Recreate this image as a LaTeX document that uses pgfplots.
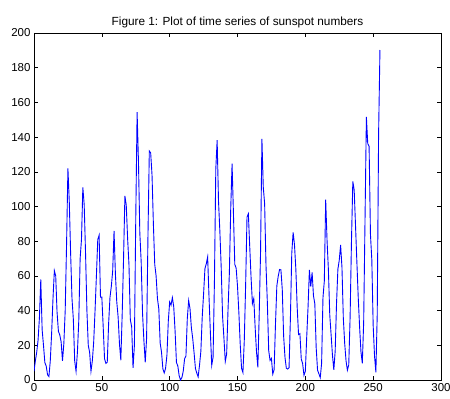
\documentclass[border=0pt]{standalone}
\usepackage{pgfplots}
\pgfplotsset{compat=1.18}
\usepackage{fontspec}
\setmainfont{Liberation Sans}
\begin{document}
\begin{tikzpicture}[x=1bp,y=1bp]
\useasboundingbox (-34bp,-19bp) rectangle (416bp,380bp);
\begin{axis}[
  at={(0bp,0bp)}, anchor=south west,
  scale only axis, width=407bp, height=347bp,
  xmin=0, xmax=300, ymin=0, ymax=200,
  xtick={0,50,...,300}, ytick={0,20,...,200},
  tick align=inside, xtick pos=both, ytick pos=both,
  major tick length=4bp,
  axis line style={black, line width=0.8pt},
  tick style={black, line width=0.6pt},
  /pgf/number format/assume math mode=true,
  ticklabel style={font=\fontsize{11.5bp}{13bp}\selectfont},
  scaled ticks=false,
  title={Figure 1: Plot of time series of sunspot numbers},
  title style={font=\fontsize{11.8bp}{13bp}\selectfont, yshift=-4bp},
]
\addplot[color={rgb,255:red,0;green,0;blue,255}, line width=0.9pt, mark=none]
table[row sep=\\, header=false, x expr=\coordindex, y index=0]{
5\\11\\16\\23\\36\\58\\29\\20\\10\\8\\3\\2\\11\\27\\47\\63\\60\\39\\28\\26\\22\\11\\21\\40\\78\\122\\103\\73\\47\\35\\11\\5\\16\\34\\70\\81\\111\\101\\73\\40\\20\\16\\5\\11\\22\\40\\60\\80.9\\83.4\\47.7\\47.8\\30.7\\12.2\\9.6\\10.2\\32.4\\47.6\\54.0\\62.9\\85.9\\61.2\\45.1\\36.4\\20.9\\11.4\\37.8\\69.8\\106.1\\100.8\\81.6\\66.5\\34.8\\30.6\\7.0\\19.8\\92.5\\154.4\\125.9\\84.8\\68.1\\38.5\\22.8\\10.2\\24.1\\82.9\\132.0\\130.9\\118.1\\89.9\\66.6\\60.0\\46.9\\41.0\\21.3\\16.0\\6.4\\4.1\\6.8\\14.5\\34.0\\45.0\\43.1\\47.5\\42.2\\28.1\\10.1\\8.1\\2.5\\0.0\\1.4\\5.0\\12.2\\13.9\\35.4\\45.8\\41.1\\30.1\\23.9\\15.6\\6.6\\4.0\\1.8\\8.5\\16.6\\36.3\\49.6\\64.2\\67.0\\70.9\\47.8\\27.5\\8.5\\13.2\\56.9\\121.5\\138.3\\103.2\\85.7\\64.6\\36.7\\24.2\\10.7\\15.0\\40.1\\61.5\\98.5\\124.7\\96.3\\66.6\\64.5\\54.1\\39.0\\20.6\\6.7\\4.3\\22.7\\54.8\\93.8\\95.8\\77.2\\59.1\\44.0\\47.0\\30.5\\16.3\\7.3\\37.6\\74.0\\139.0\\111.2\\101.6\\66.2\\44.7\\17.0\\11.3\\12.4\\3.4\\6.0\\32.3\\54.3\\59.7\\63.7\\63.5\\52.2\\25.4\\13.1\\6.8\\6.3\\7.1\\35.6\\73.0\\85.1\\78.0\\64.0\\41.8\\26.2\\26.7\\12.1\\9.5\\2.7\\5.0\\24.4\\42.0\\63.5\\53.8\\62.0\\48.5\\43.9\\18.6\\5.7\\3.6\\1.4\\9.6\\47.4\\57.1\\103.9\\80.6\\63.6\\37.6\\26.1\\14.2\\5.8\\16.7\\44.3\\63.9\\69.0\\77.8\\64.9\\35.7\\21.2\\11.1\\5.7\\8.7\\36.1\\79.7\\114.4\\109.6\\88.8\\67.8\\47.5\\30.6\\16.3\\9.6\\33.2\\92.6\\151.6\\136.3\\134.7\\83.9\\69.4\\31.5\\13.9\\4.4\\38.0\\141.7\\190.2\\
};
\end{axis}
\end{tikzpicture}
\end{document}
